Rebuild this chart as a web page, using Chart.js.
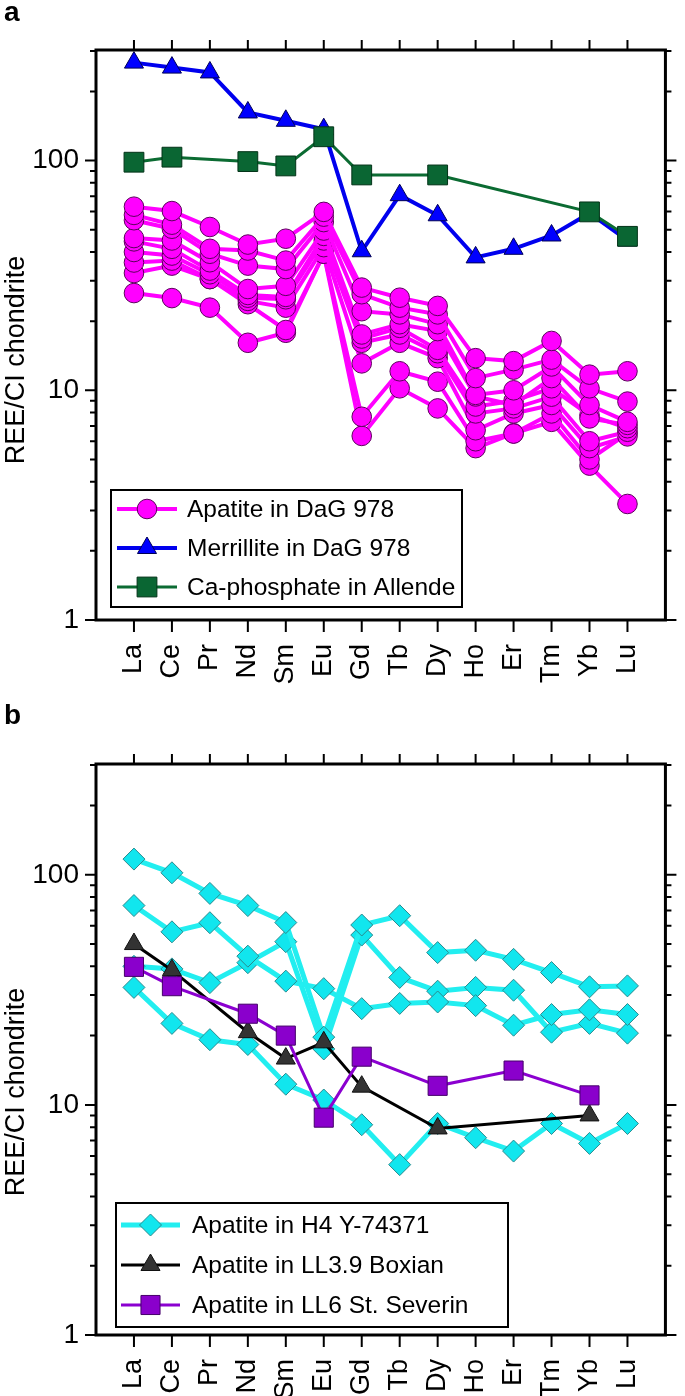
<!DOCTYPE html>
<html>
<head>
<meta charset="utf-8">
<script src="https://cdn.jsdelivr.net/npm/chart.js@4.4.1/dist/chart.umd.min.js"></script>
<style>
  html, body { margin: 0; padding: 0; background: #fff; }
  body { width: 685px; height: 1396px; position: relative; overflow: hidden; font-family: "Liberation Sans", Arial, sans-serif; }
  .panel { position: absolute; left: 0; width: 685px; }
  #panelA { top: 0; height: 700px; }
  #panelB { top: 700px; height: 696px; }
  .tag { position: absolute; left: 4px; font: bold 28px "Liberation Sans", Arial, sans-serif; line-height: 28px; }
</style>
</head>
<body>
<div class="panel" id="panelA"><canvas id="chartA" width="685" height="700"></canvas></div>
<div class="panel" id="panelB"><canvas id="chartB" width="685" height="696"></canvas></div>
<div class="tag" style="top:-2px">a</div>
<div class="tag" style="top:701px">b</div>
<script>
const elements = ['La', 'Ce', 'Pr', 'Nd', 'Sm', 'Eu', 'Gd', 'Tb', 'Dy', 'Ho', 'Er', 'Tm', 'Yb', 'Lu'];
const yTickLabels = [1, 10, 100];
const yMax = 303;
const yTitle = 'REE/CI chondrite';

// panel a : DaG 978 apatite (one row per grain), merrillite, Allende Ca-phosphate
const apatiteDaG = [
  [63, 60.3, 51.4, 43.1, 45.7, 59.8, 28.0, 25.3, 23.3, 13.8, 13.4, 16.4, 11.7, 12.1],
  [58, 52.6, 41.3, 40.6, 36.7, 57, 26.2, 22.9, 21.4, 11.3, 12.3, 13.6, 10.2, 8.93],
  [55, 50.5, 39.3, 34.9, 33.7, 54, 22.1, 21.4, 19.4, 9.55, 10.0, 12.7, 8.63, 7.29],
  [46, 44.9, 36.1, 27.6, 28.5, 49.6, 17.5, 19.4, 18.1, 9.4, 8.63, 11.3, 7.54, 7.07],
  [44.5, 41.3, 33.2, 26, 25.5, 47, 16.8, 18.7, 15, 8.5, 9, 10.2, 7.8, 6.84],
  [40, 38.6, 32, 25.3, 24.9, 44.9, 16.1, 17.5, 14.5, 7.93, 8.34, 9.38, 6.0, 6.6],
  [36, 36.7, 30.5, 24.5, 22.9, 42, 13.1, 16.1, 13.8, 6.7, 7.93, 8.63, 5.6, 6.3],
  [32.4, 34.9, 30.5, 23.7, 18.3, 39.3, 7.67, 12.1, 10.9, 6.0, 6.48, 7.93, 5.0, 6.5],
  [26.5, 25.2, 22.9, 16.1, 17.8, 39.3, 6.33, 10.2, 8.34, 5.6, 6.5, 7.29, 4.7, 3.2]
];
const merrilliteDaG = [267, 254, 242, 162, 149, 137, 40.3, 70.7, 57.8, 37.9, 41.3, 47.2, 59, 44.9];
const caPhosphateAllende = [98.4, 103.5, null, 99, 94.8, 127, 86.6, null, 86.6, null, null, null, 59.8, 46.8];

// panel b : ordinary chondrite apatite
const apatiteH4 = [
  [117, 102, 83, 73.5, 62, 19.7, 60.5, 66.4, 45.9, 47, 42.9, 37.6, 32.6, 32.9],
  [73.5, 56.5, 61.9, 44.3, 34.5, 32, 26.2, 27.6, 28, 27, 22.2, 24.7, 25.9, 24.7],
  [40, 39, 34, 41.5, 51.2, 17.5, 54.7, 35.8, 31.2, 32.4, 31.5, 20.7, 22.6, 20.5],
  [32.4, 22.6, 19.2, 18.3, 12.3, 10.5, 8.2, 5.5, 8.3, 7.2, 6.3, 8.3, 6.8, 8.3]
];
const apatiteBoxian = [50, 38.5, null, 20.7, 15.9, 18.7, 12, null, 7.9, null, null, null, 9, null];
const apatiteSeverin = [39.8, 32.8, null, 24.9, 20, 8.8, 16.2, null, 12.1, null, 14.1, null, 11, null];

const FONT = '"Liberation Sans", Arial, sans-serif';

function toPoints(values) {
  return values.map((v, i) => (v == null ? null : { x: i + 1, y: v })).filter(p => p);
}

const style = {
  apatite: { line: '#ff00ff', fill: '#ff00ff', edge: '#5c005c', pointStyle: 'circle', radius: 9.8, width: 4 },
  merrillite: { line: '#0000ee', fill: '#0000ff', edge: '#000055', pointStyle: 'triangle', radius: 11, width: 4 },
  caphos: { line: '#0b6b32', fill: '#0a6633', edge: '#033318', pointStyle: 'rect', radius: 14, width: 3 },
  h4: { line: '#22eef0', fill: '#11e6ee', edge: '#2a8a8e', pointStyle: 'rectRot', radius: 11, width: 5 },
  boxian: { line: '#000000', fill: '#333333', edge: '#111111', pointStyle: 'triangle', radius: 11, width: 3 },
  severin: { line: '#8b00d0', fill: '#8a00cc', edge: '#45006a', pointStyle: 'rect', radius: 13.5, width: 3 }
};

function dataset(values, s, order) {
  return {
    data: toPoints(values),
    borderColor: s.line,
    borderWidth: s.width,
    backgroundColor: s.fill,
    pointBackgroundColor: s.fill,
    pointBorderColor: s.edge,
    pointBorderWidth: 1,
    pointStyle: s.pointStyle,
    pointRadius: s.radius,
    showLine: true,
    spanGaps: true,
    tension: 0,
    clip: false,
    order: order
  };
}

// frame with outward ticks on all four sides, plus the y title
const framePlugin = {
  id: 'frame',
  afterDatasetsDraw(chart, args, opts) {
    const { ctx, chartArea: a, scales } = chart;
    const ys = scales.y, xs = scales.x;
    ctx.save();
    ctx.strokeStyle = '#000';
    ctx.lineWidth = 3;
    ctx.strokeRect(a.left, a.top, a.right - a.left, a.bottom - a.top);
    ctx.lineWidth = 2;
    ctx.beginPath();
    [1, 10, 100].forEach(d => {
      for (let m = 1; m <= 9; m++) {
        const v = d * m;
        if (v > yMax) continue;
        const y = ys.getPixelForValue(v);
        const len = m === 1 ? 11 : 6;
        ctx.moveTo(a.left - len, y); ctx.lineTo(a.left, y);
        ctx.moveTo(a.right, y); ctx.lineTo(a.right + len, y);
      }
    });
    elements.forEach((e, i) => {
      const x = xs.getPixelForValue(i + 1);
      ctx.moveTo(x, a.top - 10); ctx.lineTo(x, a.top);
      ctx.moveTo(x, a.bottom); ctx.lineTo(x, a.bottom + 12);
    });
    ctx.stroke();

    ctx.translate(opts.titleX, opts.titleY);
    ctx.rotate(-Math.PI / 2);
    ctx.fillStyle = '#000';
    ctx.font = '27px ' + FONT;
    ctx.textAlign = 'center';
    ctx.textBaseline = 'middle';
    ctx.fillText(yTitle, 0, 0);
    ctx.restore();
  }
};

// legend drawn inside the plot: box, line sample with marker, label
const legendPlugin = {
  id: 'legendBox',
  afterDraw(chart, args, opts) {
    const { ctx } = chart;
    const b = opts.box;
    ctx.save();
    ctx.fillStyle = '#fff';
    ctx.fillRect(b.x, b.y, b.w, b.h);
    ctx.strokeStyle = '#000';
    ctx.lineWidth = 2;
    ctx.strokeRect(b.x, b.y, b.w, b.h);
    opts.items.forEach((it, k) => {
      const y = b.y + opts.firstRow + k * opts.rowGap;
      const s = it.style;
      ctx.strokeStyle = s.line;
      ctx.lineWidth = s.width;
      ctx.beginPath();
      ctx.moveTo(opts.lineX0, y); ctx.lineTo(opts.lineX1, y);
      ctx.stroke();
      ctx.fillStyle = s.fill;
      ctx.strokeStyle = s.edge;
      ctx.lineWidth = 1;
      Chart.helpers.drawPoint(ctx, { pointStyle: s.pointStyle, radius: s.radius, rotation: 0, borderWidth: 1 },
        (opts.lineX0 + opts.lineX1) / 2, y);
      ctx.fillStyle = '#000';
      ctx.font = '24.5px ' + FONT;
      ctx.textBaseline = 'middle';
      ctx.textAlign = 'left';
      ctx.fillText(it.label, opts.textX, y + 1);
    });
    ctx.restore();
  }
};

function makeOptions(top, xHeight, titleY, legend) {
  return {
    responsive: false,
    animation: false,
    layout: { padding: { top: top, right: 17, left: 0, bottom: 0 } },
    plugins: {
      legend: { display: false },
      tooltip: { enabled: false },
      frame: { titleX: 17, titleY: titleY },
      legendBox: legend
    },
    scales: {
      x: {
        type: 'linear', min: 0, max: 15,
        grid: { display: false, drawTicks: false },
        border: { display: false },
        afterBuildTicks: s => { s.ticks = elements.map((e, i) => ({ value: i + 1 })); },
        afterFit: s => { s.height = xHeight; },
        ticks: {
          autoSkip: false, maxRotation: 90, minRotation: 90, padding: 24,
          color: '#000', font: { size: 27, family: FONT },
          callback: v => elements[v - 1] || ''
        }
      },
      y: {
        type: 'logarithmic', min: 1, max: yMax,
        grid: { display: false, drawTicks: false },
        border: { display: false },
        afterBuildTicks: s => { s.ticks = yTickLabels.map(v => ({ value: v })); },
        afterFit: s => { s.width = 96; },
        ticks: {
          padding: 17, color: '#000',
          font: { size: 28, family: FONT },
          callback: v => String(v)
        },
        title: { display: false }
      }
    }
  };
}

const datasetsA = [
  dataset(caPhosphateAllende, style.caphos, 0),
  dataset(merrilliteDaG, style.merrillite, 1)
].concat(apatiteDaG.map((row, i) => dataset(row, style.apatite, 2 + i)));

new Chart(document.getElementById('chartA'), {
  type: 'line',
  data: { datasets: datasetsA },
  options: makeOptions(50, 80, 360, {
    box: { x: 111, y: 490, w: 351, h: 117 },
    firstRow: 19, rowGap: 39, lineX0: 117, lineX1: 177, textX: 187,
    items: [
      { label: 'Apatite in DaG 978', style: style.apatite },
      { label: 'Merrillite in DaG 978', style: style.merrillite },
      { label: 'Ca-phosphate in Allende', style: style.caphos }
    ]
  }),
  plugins: [framePlugin, legendPlugin]
});

const datasetsB = [
  dataset(apatiteSeverin, style.severin, 0),
  dataset(apatiteBoxian, style.boxian, 1)
].concat(apatiteH4.map((row, i) => dataset(row, style.h4, 2 + i)));

new Chart(document.getElementById('chartB'), {
  type: 'line',
  data: { datasets: datasetsB },
  options: makeOptions(64, 61, 392, {
    box: { x: 116, y: 503, w: 392, h: 124 },
    firstRow: 22, rowGap: 40, lineX0: 121, lineX1: 180, textX: 192,
    items: [
      { label: 'Apatite in H4 Y-74371', style: style.h4 },
      { label: 'Apatite in LL3.9 Boxian', style: style.boxian },
      { label: 'Apatite in LL6 St. Severin', style: style.severin }
    ]
  }),
  plugins: [framePlugin, legendPlugin]
});
</script>
</body>
</html>
